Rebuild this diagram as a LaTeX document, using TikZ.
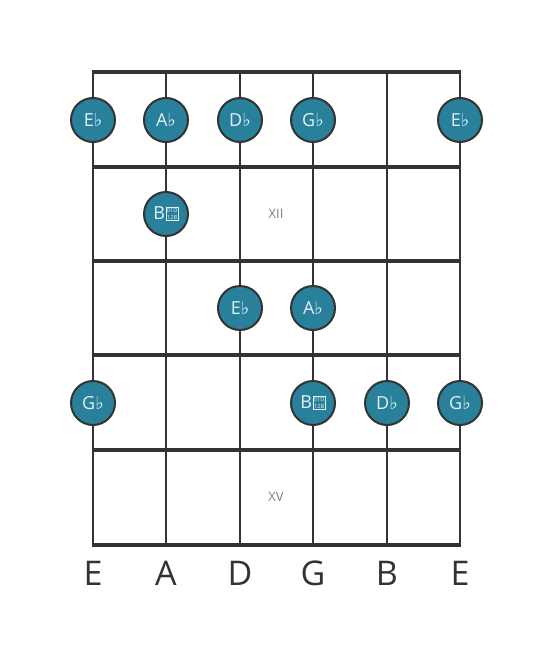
\documentclass[tikz,border=0pt]{standalone}
\usepackage{fontspec}
\setmainfont{Open Sans}
\newfontfamily\symfont{DejaVu Sans}
\definecolor{teal}{RGB}{40,128,155}
\definecolor{dark}{RGB}{51,51,51}
\definecolor{notetxt}{RGB}{225,240,245}
\begin{document}
\begin{tikzpicture}[x=1pt,y=-1pt,
  fret/.style={line width=4.5pt,dark},
  string/.style={line width=2.5pt,dark},
  note/.style={circle,draw=dark,line width=2pt,fill=teal,minimum size=44pt,inner sep=0pt,text=notetxt,font=\fontsize{18}{18}\selectfont},
  roman/.style={text=gray,font=\fontsize{13}{13}\selectfont},
  strname/.style={text=dark,font=\fontsize{34}{34}\selectfont}]
\useasboundingbox (0,0) rectangle (553,656);
\foreach \x [count=\i] in {93,166,240,313,387,460}{
  \coordinate (s\i t) at (\x,72);
  \coordinate (s\i b) at (\x,545);
  \draw[string] (s\i t) -- (s\i b);
}
\foreach \y [count=\j] in {72,167,261,355,450,545}{
  \coordinate (f\j l) at (93,\y);
  \coordinate (f\j r) at (460,\y);
  \draw[fret] ([xshift=-1.25pt]f\j l) -- ([xshift=1.25pt]f\j r);
}
\newcommand\fl{{\symfont\fontsize{18}{18}\selectfont ♭}}
\newcommand\dfl{\kern0.8pt{\setlength\fboxsep{0.5pt}\setlength\fboxrule{0.7pt}\raisebox{0.2pt}{\fbox{\fontsize{5.6}{5.2}\selectfont\shortstack{01D\\12B}}}}}
\node[note] (n1) at (93,120) {E\fl};
\node[note] (n2) at (166,120) {A\fl};
\node[note] (n3) at (240,120) {D\fl};
\node[note] (n4) at (313,120) {G\fl};
\node[note] (n5) at (460,120) {E\fl};
\node[note] (n6) at (166,214) {B\dfl};
\node[note] (n7) at (240,308) {E\fl};
\node[note] (n8) at (313,308) {A\fl};
\node[note] (n9) at (93,403) {G\fl};
\node[note] (n10) at (313,403) {B\dfl};
\node[note] (n11) at (387,403) {D\fl};
\node[note] (n12) at (460,403) {G\fl};
\node[roman] (r12) at (276,214) {XII};
\node[roman] (r15) at (276,497) {XV};
\foreach \x/\t [count=\i] in {93/E,166/A,240/D,313/G,387/B,460/E}
  \node[strname] (l\i) at (\x,573) {\t};
\end{tikzpicture}
\end{document}
